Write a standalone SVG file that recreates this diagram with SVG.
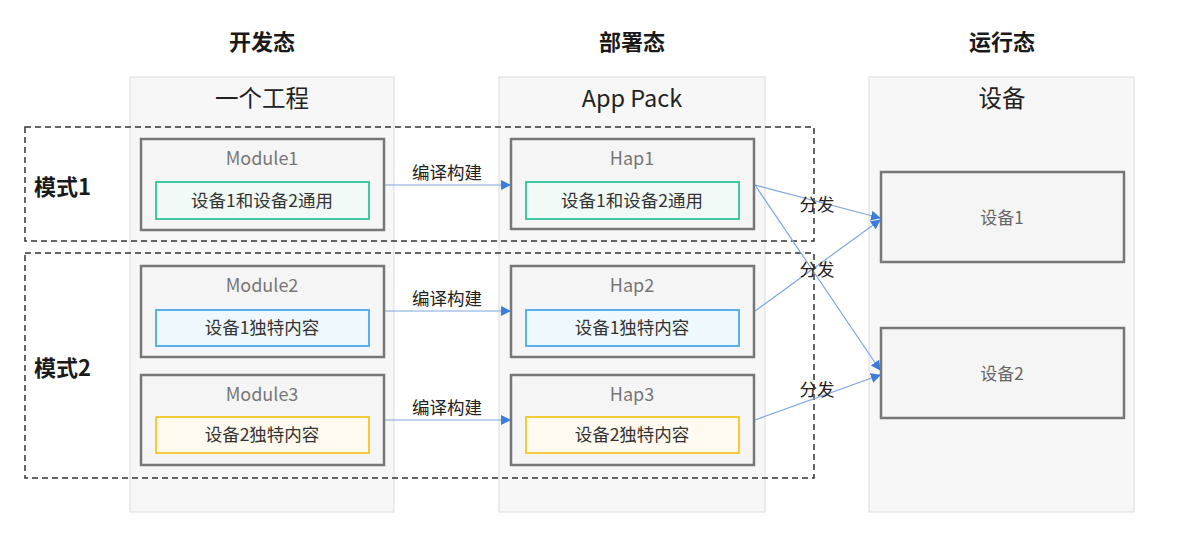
<svg xmlns="http://www.w3.org/2000/svg" width="1188" height="543" viewBox="0 0 1188 543">
<defs>
<style>
text{font-family:"Noto Sans CJK SC","Noto Sans",sans-serif;text-anchor:middle;}
.hdr{font-size:22px;font-weight:bold;fill:#1a1a1a;}
.ptitle{font-size:23.5px;fill:#222;}
.panel{fill:#f7f7f7;stroke:#dcdcdc;stroke-width:1;}
.mode{fill:none;stroke:#333;stroke-width:1.5;stroke-dasharray:6,4;}
.mlabel{font-size:22px;font-weight:bold;fill:#1a1a1a;text-anchor:start;}
.box{fill:#f5f5f5;stroke:#777;stroke-width:2.5;}
.bname{font-size:18px;fill:#777;}
.green{fill:#f1faf6;stroke:#2ec49c;stroke-width:1.8;}
.blue{fill:#eef8fd;stroke:#4aa8ec;stroke-width:1.8;}
.yellow{fill:#fffaef;stroke:#f7c623;stroke-width:1.8;}
.itext{font-size:17.5px;fill:#333;}
.dev{font-size:17px;fill:#666;}
.conn{fill:none;stroke:#7ea6de;stroke-width:1.2;}
.clabel{font-size:17.5px;fill:#222;}
</style>
<marker id="arr" viewBox="0 0 10 10" refX="9" refY="5" markerWidth="10" markerHeight="10" markerUnits="userSpaceOnUse" orient="auto">
<path d="M0,0 L10,5 L0,10 z" fill="#3b7dd8"/>
</marker>
</defs>
<rect width="1188" height="543" fill="#ffffff"/>

<g id="headers">
<text class="hdr" x="262" y="50">开发态</text>
<text class="hdr" x="632" y="50">部署态</text>
<text class="hdr" x="1002" y="50">运行态</text>
</g>

<g id="panel-dev">
<rect class="panel" x="130" y="77" width="264" height="435"/>
<text class="ptitle" x="262" y="107">一个工程</text>
</g>
<g id="panel-deploy">
<rect class="panel" x="499" y="77" width="266" height="435"/>
<text class="ptitle" x="632" y="107">App Pack</text>
</g>
<g id="panel-run">
<rect class="panel" x="869" y="77" width="265" height="435"/>
<text class="ptitle" x="1002" y="107">设备</text>
</g>

<g id="mode1">
<rect class="mode" x="25" y="127" width="789" height="114"/>
<text class="mlabel" x="34" y="195">模式1</text>
</g>
<g id="mode2">
<rect class="mode" x="25" y="253" width="789" height="225"/>
<text class="mlabel" x="34" y="376">模式2</text>
</g>

<g id="module1">
<rect class="box" x="141" y="139" width="243" height="91"/>
<text class="bname" x="262" y="165">Module1</text>
<rect class="green" x="156" y="182" width="213" height="37"/>
<text class="itext" x="262" y="207">设备1和设备2通用</text>
</g>
<g id="module2">
<rect class="box" x="141" y="266" width="243" height="91"/>
<text class="bname" x="262" y="292">Module2</text>
<rect class="blue" x="156" y="310" width="213" height="36"/>
<text class="itext" x="262" y="334">设备1独特内容</text>
</g>
<g id="module3">
<rect class="box" x="141" y="375" width="243" height="90"/>
<text class="bname" x="262" y="401">Module3</text>
<rect class="yellow" x="156" y="417" width="213" height="36"/>
<text class="itext" x="262" y="441">设备2独特内容</text>
</g>

<g id="hap1">
<rect class="box" x="511" y="139" width="243" height="90"/>
<text class="bname" x="632" y="165">Hap1</text>
<rect class="green" x="526" y="182" width="213" height="37"/>
<text class="itext" x="632" y="207">设备1和设备2通用</text>
</g>
<g id="hap2">
<rect class="box" x="511" y="266" width="243" height="91"/>
<text class="bname" x="632" y="292">Hap2</text>
<rect class="blue" x="526" y="310" width="213" height="36"/>
<text class="itext" x="632" y="334">设备1独特内容</text>
</g>
<g id="hap3">
<rect class="box" x="511" y="375" width="243" height="90"/>
<text class="bname" x="632" y="401">Hap3</text>
<rect class="yellow" x="526" y="417" width="213" height="36"/>
<text class="itext" x="632" y="441">设备2独特内容</text>
</g>

<g id="device1">
<rect class="box" x="881" y="172" width="243" height="90"/>
<text class="dev" x="1002" y="224">设备1</text>
</g>
<g id="device2">
<rect class="box" x="881" y="328" width="243" height="90"/>
<text class="dev" x="1002" y="380">设备2</text>
</g>

<g id="connectors">
<line class="conn" x1="385" y1="185" x2="510" y2="185" marker-end="url(#arr)"/>
<line class="conn" x1="385" y1="311" x2="510" y2="311" marker-end="url(#arr)"/>
<line class="conn" x1="385" y1="420" x2="510" y2="420" marker-end="url(#arr)"/>
<line class="conn" x1="755" y1="185" x2="880" y2="218" marker-end="url(#arr)"/>
<line class="conn" x1="755" y1="185" x2="880" y2="370" marker-end="url(#arr)"/>
<line class="conn" x1="755" y1="311" x2="880" y2="220" marker-end="url(#arr)"/>
<line class="conn" x1="755" y1="420" x2="880" y2="375" marker-end="url(#arr)"/>
<text class="clabel" x="447" y="179">编译构建</text>
<text class="clabel" x="447" y="305">编译构建</text>
<text class="clabel" x="447" y="414">编译构建</text>
<text class="clabel" x="817" y="211">分发</text>
<text class="clabel" x="817" y="276">分发</text>
<text class="clabel" x="817" y="396">分发</text>
</g>
</svg>
